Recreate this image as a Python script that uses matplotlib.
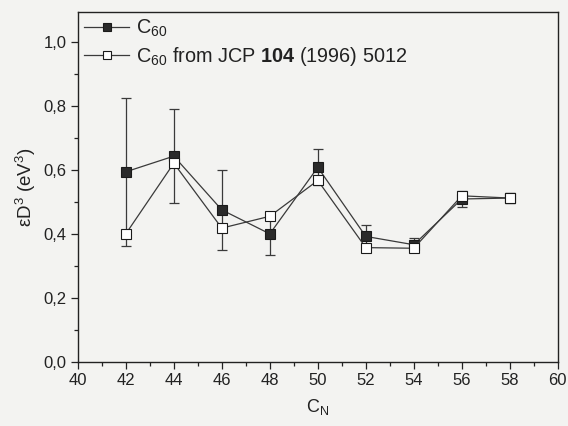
import matplotlib
matplotlib.use("Agg")
import matplotlib.pyplot as plt
from matplotlib.ticker import MultipleLocator, FuncFormatter

plt.rcParams['font.family'] = ['Liberation Sans', 'DejaVu Sans']
plt.rcParams['mathtext.fontset'] = 'custom'
plt.rcParams['mathtext.rm'] = 'Liberation Sans'
plt.rcParams['mathtext.it'] = 'Liberation Sans:italic'
plt.rcParams['mathtext.bf'] = 'Liberation Sans:bold'

# Cluster sizes
cluster_n = [42, 44, 46, 48, 50, 52, 54, 56, 58]
# epsilon*D^3 from C60 fit, with uncertainties
eps_d3_c60 = [0.595, 0.644, 0.476, 0.401, 0.609, 0.393, 0.367, 0.510, 0.513]
eps_d3_err = [0.232, 0.148, 0.125, 0.067, 0.056, 0.036, 0.021, 0.025, 0.015]
# epsilon*D^3 from JCP 104 (1996) 5012 parameters
eps_d3_jcp = [0.401, 0.622, 0.419, 0.456, 0.568, 0.358, 0.356, 0.520, 0.513]

bg = '#f3f3f1'
fig = plt.figure(figsize=(5.68, 4.26), dpi=100, facecolor=bg)
ax = fig.add_axes([0.137, 0.150, 0.845, 0.822], facecolor=bg)

line_col = '#3a3a3a'
ax.errorbar(cluster_n, eps_d3_c60, yerr=eps_d3_err, fmt='none',
            ecolor=line_col, elinewidth=0.9, capsize=3.5, capthick=0.9, zorder=2)
ax.plot(cluster_n, eps_d3_c60, color=line_col, lw=0.9,
        marker='s', ms=6.5, mfc='#2a2a2a', mec='#1a1a1a', mew=0.8,
        label=r'C$_{60}$', zorder=3)
ax.plot(cluster_n, eps_d3_jcp, color=line_col, lw=0.9,
        marker='s', ms=7.5, mfc='white', mec='#1a1a1a', mew=0.8,
        label=r'C$_{60}$ from JCP $\mathbf{104}$ (1996) 5012', zorder=4)

ax.set_xlim(40, 60)
ax.set_ylim(0, 1.095)
ax.xaxis.set_major_locator(MultipleLocator(2))
ax.xaxis.set_minor_locator(MultipleLocator(1))
ax.yaxis.set_major_locator(MultipleLocator(0.2))
ax.yaxis.set_minor_locator(MultipleLocator(0.1))
ax.yaxis.set_major_formatter(FuncFormatter(lambda v, p: f"{v:.1f}".replace('.', ',')))

ax.tick_params(which='both', direction='out', top=False, right=False,
               labelsize=12, colors='#222222', width=0.9)
ax.tick_params(which='major', length=5, pad=3)
ax.tick_params(which='minor', length=3)
for s in ax.spines.values():
    s.set_linewidth(1.0)
    s.set_color('#222222')

ax.set_xlabel(r'C$_{\rm N}$', fontsize=13, color='#222222', labelpad=6)
ax.set_ylabel('εD$^3$ (eV$^3$)', fontsize=13.5, color='#222222', labelpad=4)

leg = ax.legend(loc='upper left', frameon=False, fontsize=14.3, numpoints=1,
                handlelength=2.3, handletextpad=0.35, labelspacing=0.3,
                borderaxespad=0.15, borderpad=0.15, markerscale=0.85)
for t in leg.get_texts():
    t.set_color('#222222')

fig.savefig('out.png', dpi=100, facecolor=bg)
